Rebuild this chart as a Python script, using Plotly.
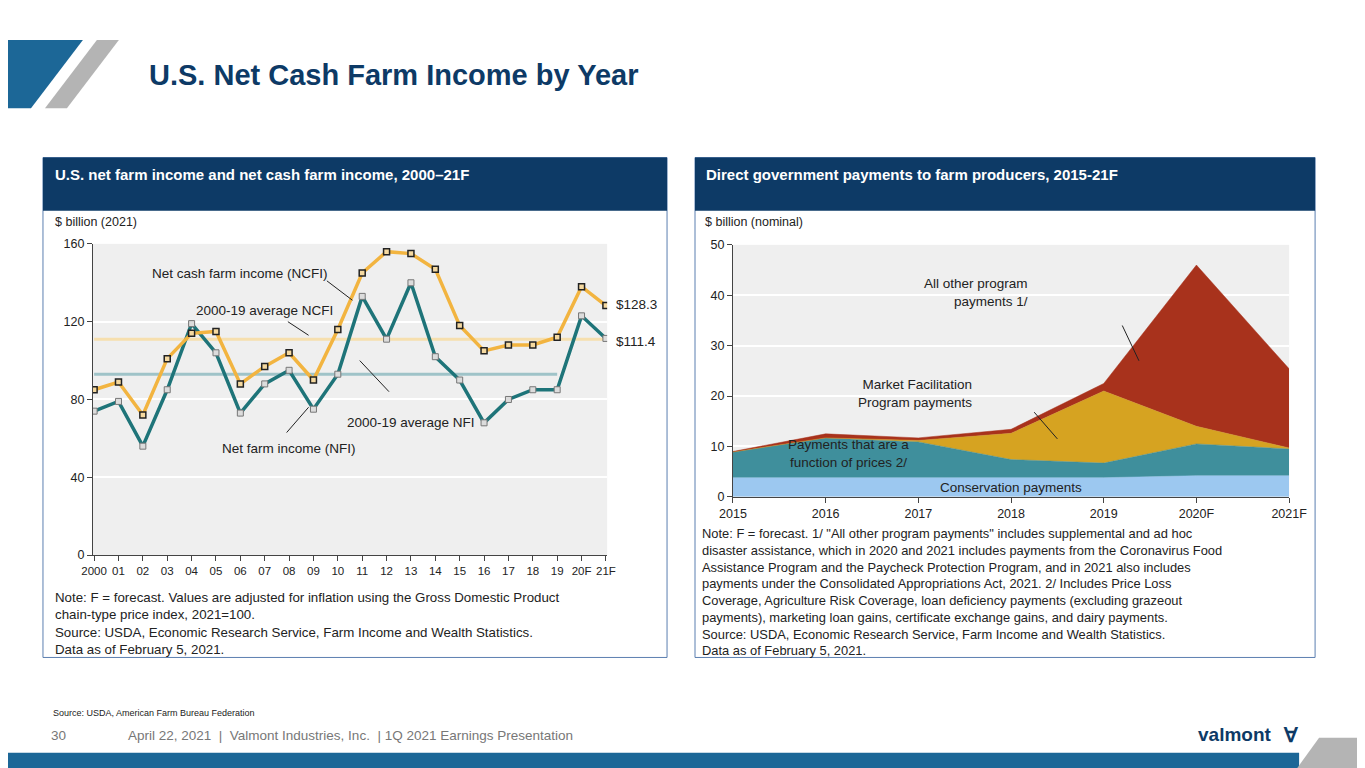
import plotly.graph_objects as go

years = ['2000', '01', '02', '03', '04', '05', '06', '07', '08', '09', '10',
         '11', '12', '13', '14', '15', '16', '17', '18', '19', '20F', '21F']
ncfi = [85, 89, 72, 101, 114, 115, 88, 97, 104, 90, 116,
        145, 156, 155, 147, 118, 105, 108, 108, 112, 138, 128.3]
nfi = [74, 79, 56, 85, 119, 104, 73, 88, 95, 75, 93,
       133, 111, 140, 102, 90, 68, 80, 85, 85, 123, 111.4]
avg_ncfi = 111
avg_nfi = 93

pay_years = ['2015', '2016', '2017', '2018', '2019', '2020F', '2021F']
conservation = [3.8, 3.8, 3.8, 3.8, 3.8, 4.2, 4.2]
price_payments = [5.1, 7.9, 7.1, 3.6, 2.9, 6.3, 5.3]
mfp = [0, 0, 0.3, 5.2, 14.3, 3.5, 0.2]
other = [0.1, 0.8, 0.5, 0.8, 1.5, 32.0, 15.7]

FONT = 'Arial, Liberation Sans, sans-serif'
NAVY = '#0d3a66'
W, H = 1365, 768
X0, Y0, S = 21, 15, 0.978  # where the page puts the figure in the window

def px(x):  # window pixel -> paper x
    return (x - X0) / (S * W)

def py(y):  # window pixel -> paper y
    return 1 - (y - Y0) / (S * H)

fig = go.Figure()

# left panel: net farm income
fig.add_trace(go.Scatter(x=years, y=[avg_ncfi] * len(years), mode='lines',
                         line=dict(color='#f6dfae', width=3), xaxis='x', yaxis='y', hoverinfo='skip'))
fig.add_trace(go.Scatter(x=years[:-2], y=[avg_nfi] * (len(years) - 2), mode='lines',
                         line=dict(color='#9fc3c8', width=3), xaxis='x', yaxis='y', hoverinfo='skip'))
fig.add_trace(go.Scatter(x=years, y=nfi, mode='lines+markers', name='NFI',
                         line=dict(color='#1e7479', width=3.5),
                         marker=dict(symbol='square', size=6, color='#dcdcdc', line=dict(color='#777', width=1)),
                         xaxis='x', yaxis='y'))
fig.add_trace(go.Scatter(x=years, y=ncfi, mode='lines+markers', name='NCFI',
                         line=dict(color='#f2b440', width=3.5),
                         marker=dict(symbol='square', size=6, color='#f5d9a0', line=dict(color='#222', width=1.5)),
                         xaxis='x', yaxis='y'))

# right panel: direct government payments
stack = [('Conservation payments', conservation, '#9cc8f0'),
         ('Payments that are a function of prices 2/', price_payments, '#3f8f9c'),
         ('Market Facilitation Program payments', mfp, '#d6a321'),
         ('All other program payments 1/', other, '#a8321c')]
for name, vals, col in stack:
    fig.add_trace(go.Scatter(x=pay_years, y=vals, name=name, stackgroup='one', mode='lines',
                             line=dict(width=0.5, color=col), fillcolor=col,
                             xaxis='x2', yaxis='y2'))

fig.update_layout(
    width=W, height=H, margin=dict(l=0, r=0, t=0, b=0),
    paper_bgcolor='white', showlegend=False,
    font=dict(family=FONT, color='#222'),
    xaxis=dict(domain=[px(92), px(607)], showgrid=False, ticks='outside', tickcolor='#444',
               ticklen=5, showline=True, linecolor='#444', tickfont=dict(size=11.5), range=[-0.05, 21.05]),
    yaxis=dict(domain=[py(553), py(243)], range=[0, 160], tickvals=[0, 40, 80, 120, 160],
               gridcolor='white', gridwidth=2, showline=True, linecolor='#444', ticks='outside',
               ticklen=5, tickcolor='#444', tickfont=dict(size=12.5), zeroline=False),
    xaxis2=dict(domain=[px(733), px(1290)], anchor='y2', showgrid=False, ticks='outside',
                tickcolor='#444', ticklen=5, showline=True, linecolor='#444', tickfont=dict(size=12.5),
                range=[0, 6]),
    yaxis2=dict(domain=[py(495), py(244)], anchor='x2', range=[0, 50], tickvals=[0, 10, 20, 30, 40, 50],
                gridcolor='white', gridwidth=2, showline=True, linecolor='#444', ticks='outside',
                ticklen=5, tickcolor='#444', tickfont=dict(size=12.5), zeroline=False),
    plot_bgcolor='#efefef',
)

P = dict(xref='paper', yref='paper')
shapes = [
    # slide decorations
    dict(type='path', path=f'M {px(0)} {py(40)} L {px(82)} {py(40)} L {px(30)} {py(108)} L {px(0)} {py(108)} Z',
         fillcolor='#1c6797', line=dict(width=0), **P),
    dict(type='path', path=f'M {px(96)} {py(40)} L {px(118)} {py(40)} L {px(66)} {py(108)} L {px(44)} {py(108)} Z',
         fillcolor='#b4b4b4', line=dict(width=0), **P),
    dict(type='rect', x0=px(0), x1=px(1300), y0=py(768), y1=py(750), fillcolor='#1c6797', line=dict(width=0), **P),
    dict(type='path', path=f'M {px(1320)} {py(735)} L {px(1365)} {py(735)} L {px(1365)} {py(768)} L {px(1296)} {py(768)} Z',
         fillcolor='#b4b4b4', line=dict(width=0), **P),
    # panels
    dict(type='rect', x0=px(42), x1=px(667), y0=py(655), y1=py(157), fillcolor='rgba(0,0,0,0)',
         line=dict(color='#5b7fb0', width=1), layer='below', **P),
    dict(type='rect', x0=px(42), x1=px(667), y0=py(210), y1=py(157), fillcolor=NAVY, line=dict(width=0), **P),
    dict(type='rect', x0=px(695), x1=px(1316), y0=py(655), y1=py(157), fillcolor='rgba(0,0,0,0)',
         line=dict(color='#5b7fb0', width=1), layer='below', **P),
    dict(type='rect', x0=px(695), x1=px(1316), y0=py(210), y1=py(157), fillcolor=NAVY, line=dict(width=0), **P),
]
fig.update_layout(shapes=shapes)

def txt(x, y, s, size=12, color='#222', bold=False, anchor='left', xref='paper', yref='paper', valign='middle'):
    fig.add_annotation(x=x, y=y, xref=xref, yref=yref, text=f'<b>{s}</b>' if bold else s,
                       showarrow=False, xanchor=anchor, yanchor=valign,
                       font=dict(size=size, color=color), align=anchor)

txt(px(146), py(75), 'U.S. Net Cash Farm Income by Year', size=29, color=NAVY, bold=True)
txt(px(52), py(174), 'U.S. net farm income and net cash farm income, 2000–21F', size=15, color='white', bold=True)
txt(px(704), py(174), 'Direct government payments to farm producers, 2015-21F', size=15, color='white', bold=True)
txt(px(52), py(221), '$ billion (2021)', size=12.5)
txt(px(703), py(221), '$ billion (nominal)', size=12.5)

# left chart labels
txt('06', 145, 'Net cash farm income (NCFI)', xref='x', yref='y', anchor='center', size=13.5)
txt('07', 126, '2000-19 average NCFI', xref='x', yref='y', anchor='center', size=13.5)
txt('13', 68, '2000-19 average NFI', xref='x', yref='y', anchor='center', size=13.5)
txt('08', 55, 'Net farm income (NFI)', xref='x', yref='y', anchor='center', size=13.5)
txt(px(614), py(303), '$128.3', size=13.5)
txt(px(614), py(340), '$111.4', size=13.5)
for (x0, y0, x1, y1) in [(9.55, 141, 10.6, 131), (7.95, 120, 8.8, 113), (12.1, 84, 10.9, 100), (7.9, 63, 8.8, 76)]:
    fig.add_shape(type='line', xref='x', yref='y', x0=x0, y0=y0, x1=x1, y1=y1, line=dict(color='#222', width=1))

# right chart labels
txt(3.2, 40.5, 'All other program<br>payments 1/', xref='x2', yref='y2', anchor='right', size=13.5)
txt(2.6, 20.5, 'Market Facilitation<br>Program payments', xref='x2', yref='y2', anchor='right', size=13.5)
txt(1.25, 8.7, 'Payments that are a<br>function of prices 2/', xref='x2', yref='y2', anchor='center', size=13.5)
txt(3.0, 1.9, 'Conservation payments', xref='x2', yref='y2', anchor='center', size=13.5)
fig.add_shape(type='line', xref='x2', yref='y2', x0=4.2, y0=34, x1=4.38, y1=27, line=dict(color='#222', width=1))
fig.add_shape(type='line', xref='x2', yref='y2', x0=3.25, y0=16.8, x1=3.5, y1=11.5, line=dict(color='#222', width=1))

# notes
txt(px(52), py(586), 'Note: F = forecast. Values are adjusted for inflation using the Gross Domestic Product<br>'
    'chain-type price index, 2021=100.<br>Source: USDA, Economic Research Service, Farm Income and Wealth Statistics.<br>'
    'Data as of February 5, 2021.', size=13.3, valign='top')
txt(px(700), py(522), 'Note: F = forecast. 1/ "All other program payments" includes supplemental and ad hoc<br>'
    'disaster assistance, which in 2020 and 2021 includes payments from the Coronavirus Food<br>'
    'Assistance Program and the Paycheck Protection Program, and in 2021 also includes<br>'
    'payments under the Consolidated Appropriations Act, 2021. 2/ Includes Price Loss<br>'
    'Coverage, Agriculture Risk Coverage, loan deficiency payments (excluding grazeout<br>'
    'payments), marketing loan gains, certificate exchange gains, and dairy payments.<br>'
    'Source: USDA, Economic Research Service, Farm Income and Wealth Statistics.<br>'
    'Data as of February 5, 2021.', size=12.9, valign='top')

txt(px(50), py(710), 'Source: USDA, American Farm Bureau Federation', size=9)
txt(px(48), py(733), '30', size=13.5, color='#777')
txt(px(125), py(733), 'April 22, 2021  |  Valmont Industries, Inc.  | 1Q 2021 Earnings Presentation', size=13.5, color='#777')
txt(px(1275), py(732), 'valmont', size=19, color=NAVY, bold=True, anchor='right')
txt(px(1302), py(732), '∀', size=20, color=NAVY, bold=True, anchor='right')

fig.write_html("out.html")
